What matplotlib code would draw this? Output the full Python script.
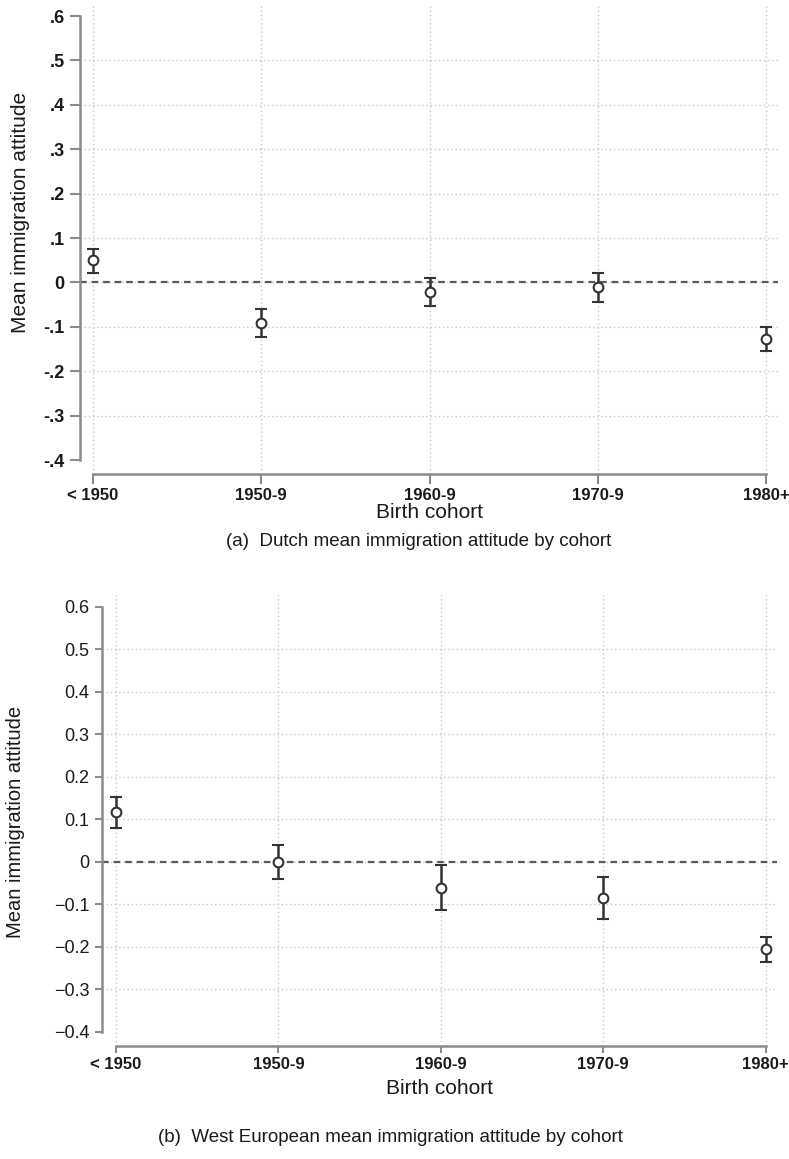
import numpy as np
import matplotlib
matplotlib.use('Agg')
import matplotlib.pyplot as plt

plt.rcParams['font.family'] = ['Liberation Sans', 'DejaVu Sans']

cohorts = ['< 1950', '1950-9', '1960-9', '1970-9', '1980+']

# (a) Dutch sample
nl_mean = [0.050, -0.092, -0.021, -0.010, -0.128]
nl_lo = [0.021, -0.123, -0.053, -0.044, -0.154]
nl_hi = [0.075, -0.060, 0.010, 0.021, -0.100]
nl_ticks = [0.6, 0.5, 0.4, 0.3, 0.2, 0.1, 0.0, -0.1, -0.2, -0.3, -0.4]
nl_ticklabels = ['.6', '.5', '.4', '.3', '.2', '.1', '0', '-.1', '-.2', '-.3', '-.4']

# (b) West European sample
we_mean = [0.118, 0.000, -0.061, -0.085, -0.205]
we_lo = [0.080, -0.040, -0.113, -0.134, -0.235]
we_hi = [0.153, 0.040, -0.007, -0.035, -0.177]
we_ticks = [0.6, 0.5, 0.4, 0.3, 0.2, 0.1, 0.0, -0.1, -0.2, -0.3, -0.4]
we_ticklabels = ['0.6', '0.5', '0.4', '0.3', '0.2', '0.1', '0',
                 '\u22120.1', '\u22120.2', '\u22120.3', '\u22120.4']

W, H = 789, 1159
fig = plt.figure(figsize=(W / 100, H / 100), dpi=100)


def px_axes(left, top, right, bottom):
    return fig.add_axes([left / W, 1 - bottom / H, (right - left) / W, (bottom - top) / H])


def panel(ax, mean, lo, hi, ticks, ticklabels, xlim, ylim, tickfont, ticklen):
    x = np.arange(len(cohorts))
    ax.set_xlim(*xlim)
    ax.set_ylim(*ylim)
    # dotted grid: inner y ticks only, every cohort on x
    ax.hlines(ticks[1:-1], xlim[0], xlim[1], colors='#c8c8c8', linestyles=(0, (1, 2)), lw=1, zorder=1)
    ax.vlines(x, ylim[0], ylim[1], colors='#c8c8c8', linestyles=(0, (1, 2)), lw=1, zorder=1)
    ax.axhline(0, color='#5a5a5a', ls=(0, (3, 2.2)), lw=1.6, zorder=2)
    m = np.array(mean)
    ax.errorbar(x, m, yerr=[m - np.array(lo), np.array(hi) - m], fmt='o', mfc='white',
                mec='#333333', mew=1.5, ms=7, ecolor='#333333', elinewidth=1.8,
                capsize=4, capthick=1.8, zorder=3)
    for s in ['top', 'right']:
        ax.spines[s].set_visible(False)
    for s in ['left', 'bottom']:
        ax.spines[s].set_color('#8c8c8c')
        ax.spines[s].set_linewidth(1.8)
    ax.spines['left'].set_bounds(ticks[-1], ticks[0])
    ax.spines['bottom'].set_bounds(0, len(cohorts) - 1)
    ax.set_yticks(ticks)
    ax.set_yticklabels(ticklabels, **tickfont)
    ax.set_xticks(x)
    ax.set_xticklabels(cohorts, fontsize=12, fontweight='bold',
                       family=['Liberation Sans Narrow', 'Liberation Sans'])
    ax.tick_params(axis='both', colors='#8c8c8c', width=1.5, length=ticklen, labelcolor='#1a1a1a')
    ax.tick_params(axis='x', pad=3)
    ax.tick_params(axis='y', pad=4)


ax1 = px_axes(80, 5, 778, 474)
panel(ax1, nl_mean, nl_lo, nl_hi, nl_ticks, nl_ticklabels,
      (-0.077, 4.07), (-0.4315, 0.625), dict(fontsize=13, fontweight='bold'), 7)

ax2 = px_axes(102, 595, 777, 1046)
panel(ax2, we_mean, we_lo, we_hi, we_ticks, we_ticklabels,
      (-0.086, 4.07), (-0.433, 0.628), dict(fontsize=13), 5)

fig.text(21 / W, 1 - 212 / H, 'Mean immigration attitude', rotation=90,
         ha='center', va='center', fontsize=15, color='#1a1a1a')
fig.text(16 / W, 1 - 822 / H, 'Mean immigration attitude', rotation=90,
         ha='center', va='center', fontsize=14.5, color='#1a1a1a')
fig.text(429 / W, 1 - 512 / H, 'Birth cohort',
         ha='center', va='center', fontsize=15, color='#1a1a1a')
fig.text(440 / W, 1 - 1088 / H, 'Birth cohort',
         ha='center', va='center', fontsize=15, color='#1a1a1a')
fig.text(419 / W, 1 - 542 / H, '(a)  Dutch mean immigration attitude by cohort',
         ha='center', va='center', fontsize=13.5, color='#1a1a1a')
fig.text(390 / W, 1 - 1137 / H, '(b)  West European mean immigration attitude by cohort',
         ha='center', va='center', fontsize=13.5, color='#1a1a1a')

fig.savefig('out.png', dpi=100)
